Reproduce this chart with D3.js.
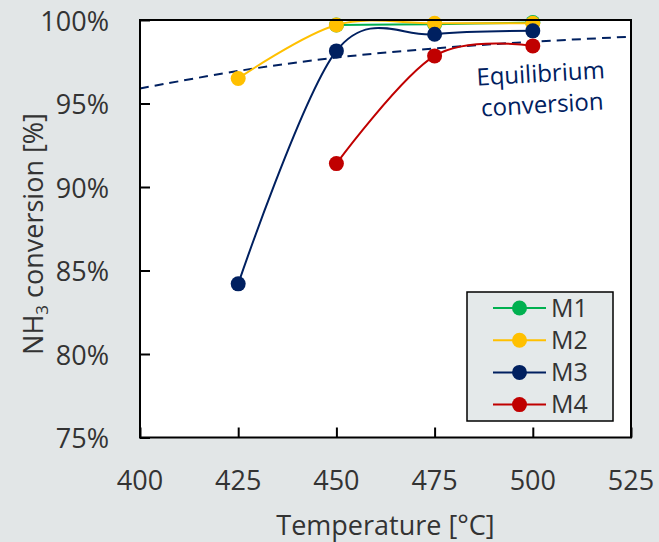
<!DOCTYPE html>
<html>
<head>
<meta charset="utf-8">
<script src="https://cdn.jsdelivr.net/npm/d3@7"></script>
<style>
  html, body { margin: 0; padding: 0; background: #e2e6e7; }
  svg { display: block; font-family: "Open Sans", sans-serif; }
</style>
</head>
<body>
<svg id="chart"></svg>
<script>
const temps = [425, 450, 475, 500];
const seriesNames = ["M1", "M2", "M3", "M4"];
const seriesColors = ["#00b050", "#ffc000", "#002060", "#c00000"];
const m1 = [null, 99.7, 99.75, 99.85];
const m2 = [96.5, 99.7, 99.8, 99.8];
const m3 = [84.2, 98.15, 99.15, 99.35];
const m4 = [null, 91.4, 97.85, 98.45];
const eqTemps = [400, 425, 450, 475, 500, 525];
const eqValues = [95.9, 96.95, 97.75, 98.3, 98.7, 99.0];
const xTicks = [400, 425, 450, 475, 500, 525];
const yTicks = [75, 80, 85, 90, 95, 100];

const width = 659, height = 542;
const margin = { left: 140, top: 20, right: 28, bottom: 104.5 };
const textColor = "#333";

const svg = d3.select("#chart")
  .attr("width", width)
  .attr("height", height);

const x = d3.scaleLinear().domain([400, 525]).range([margin.left, width - margin.right]);
const y = d3.scaleLinear().domain([75, 100]).range([height - margin.bottom, margin.top]);

// plot area
svg.append("rect")
  .attr("x", x(400)).attr("y", y(100))
  .attr("width", x(525) - x(400)).attr("height", y(75) - y(100))
  .attr("fill", "#fff");

// inside ticks
svg.append("g")
  .attr("transform", `translate(0,${y(75)})`)
  .call(d3.axisBottom(x).tickValues(xTicks).tickSize(-10).tickFormat(""))
  .call(g => g.select(".domain").remove())
  .call(g => g.selectAll("line").attr("stroke", "#000").attr("stroke-width", 2));

svg.append("g")
  .attr("transform", `translate(${x(400)},0)`)
  .call(d3.axisLeft(y).tickValues(yTicks).tickSize(-10).tickFormat(""))
  .call(g => g.select(".domain").remove())
  .call(g => g.selectAll("line").attr("stroke", "#000").attr("stroke-width", 2));

// tick labels
svg.append("g").selectAll("text")
  .data(xTicks)
  .join("text")
  .attr("x", d => x(d))
  .attr("y", 490)
  .attr("text-anchor", "middle")
  .attr("font-size", 27)
  .attr("fill", textColor)
  .text(d => d);

svg.append("g").selectAll("text")
  .data(yTicks)
  .join("text")
  .attr("x", 109)
  .attr("y", d => y(d) + 10.5)
  .attr("text-anchor", "end")
  .attr("font-size", 27)
  .attr("fill", textColor)
  .text(d => d + "%");

// axis titles
svg.append("text")
  .attr("x", (x(400) + x(525)) / 2)
  .attr("y", 535)
  .attr("text-anchor", "middle")
  .attr("font-size", 27)
  .attr("fill", textColor)
  .text("Temperature [°C]");

const yTitle = svg.append("text")
  .attr("transform", `translate(43,234) rotate(-90)`)
  .attr("text-anchor", "middle")
  .attr("font-size", 27)
  .attr("fill", textColor);
yTitle.append("tspan").text("NH");
yTitle.append("tspan").attr("font-size", 17).attr("dy", 5).text("3");
yTitle.append("tspan").attr("dy", -5).text(" conversion [%]");

// equilibrium line
svg.append("path")
  .datum(eqTemps.map((t, i) => [t, eqValues[i]]))
  .attr("fill", "none")
  .attr("stroke", "#002060")
  .attr("stroke-width", 2)
  .attr("stroke-dasharray", "9,6")
  .attr("d", d3.line().x(d => x(d[0])).y(d => y(d[1])).curve(d3.curveCardinal));

svg.append("text")
  .attr("transform", "translate(540,82) rotate(-3.3)")
  .attr("text-anchor", "middle")
  .attr("font-size", 24)
  .attr("fill", "#002060")
  .selectAll("tspan")
  .data(["Equilibrium", "conversion"])
  .join("tspan")
  .attr("x", 1)
  .attr("dy", (d, i) => i ? 31 : 0)
  .text(d => d);

// series
const series = [m1, m2, m3, m4].map((vals, i) => ({
  name: seriesNames[i],
  color: seriesColors[i],
  points: temps.map((t, j) => [t, vals[j]]).filter(p => p[1] != null)
}));

const line = d3.line().x(d => x(d[0])).y(d => y(d[1])).curve(d3.curveCardinal);

const sg = svg.append("g").selectAll("g")
  .data(series)
  .join("g");

sg.append("path")
  .attr("fill", "none")
  .attr("stroke", d => d.color)
  .attr("stroke-width", 2)
  .attr("d", d => line(d.points));

sg.selectAll("circle")
  .data(d => d.points.map(p => ({ p, color: d.color })))
  .join("circle")
  .attr("cx", d => x(d.p[0]))
  .attr("cy", d => y(d.p[1]))
  .attr("r", 7.5)
  .attr("fill", d => d.color);

// frame
svg.append("rect")
  .attr("x", x(400)).attr("y", y(100))
  .attr("width", x(525) - x(400)).attr("height", y(75) - y(100))
  .attr("fill", "none")
  .attr("stroke", "#000")
  .attr("stroke-width", 2);

// legend
const legend = svg.append("g").attr("transform", "translate(467,292)");
legend.append("rect")
  .attr("width", 146).attr("height", 129)
  .attr("fill", "#e4e9ea")
  .attr("stroke", "#000")
  .attr("stroke-width", 1.5);

const item = legend.selectAll("g")
  .data(series)
  .join("g")
  .attr("transform", (d, i) => `translate(0,${16 + i * 32.2})`);

item.append("line")
  .attr("x1", 26).attr("x2", 79)
  .attr("stroke", d => d.color)
  .attr("stroke-width", 2);

item.append("circle")
  .attr("cx", 52.5).attr("r", 7.5)
  .attr("fill", d => d.color);

item.append("text")
  .attr("x", 84)
  .attr("y", 8.5)
  .attr("font-size", 25)
  .attr("fill", textColor)
  .text(d => d.name);
</script>
</body>
</html>
